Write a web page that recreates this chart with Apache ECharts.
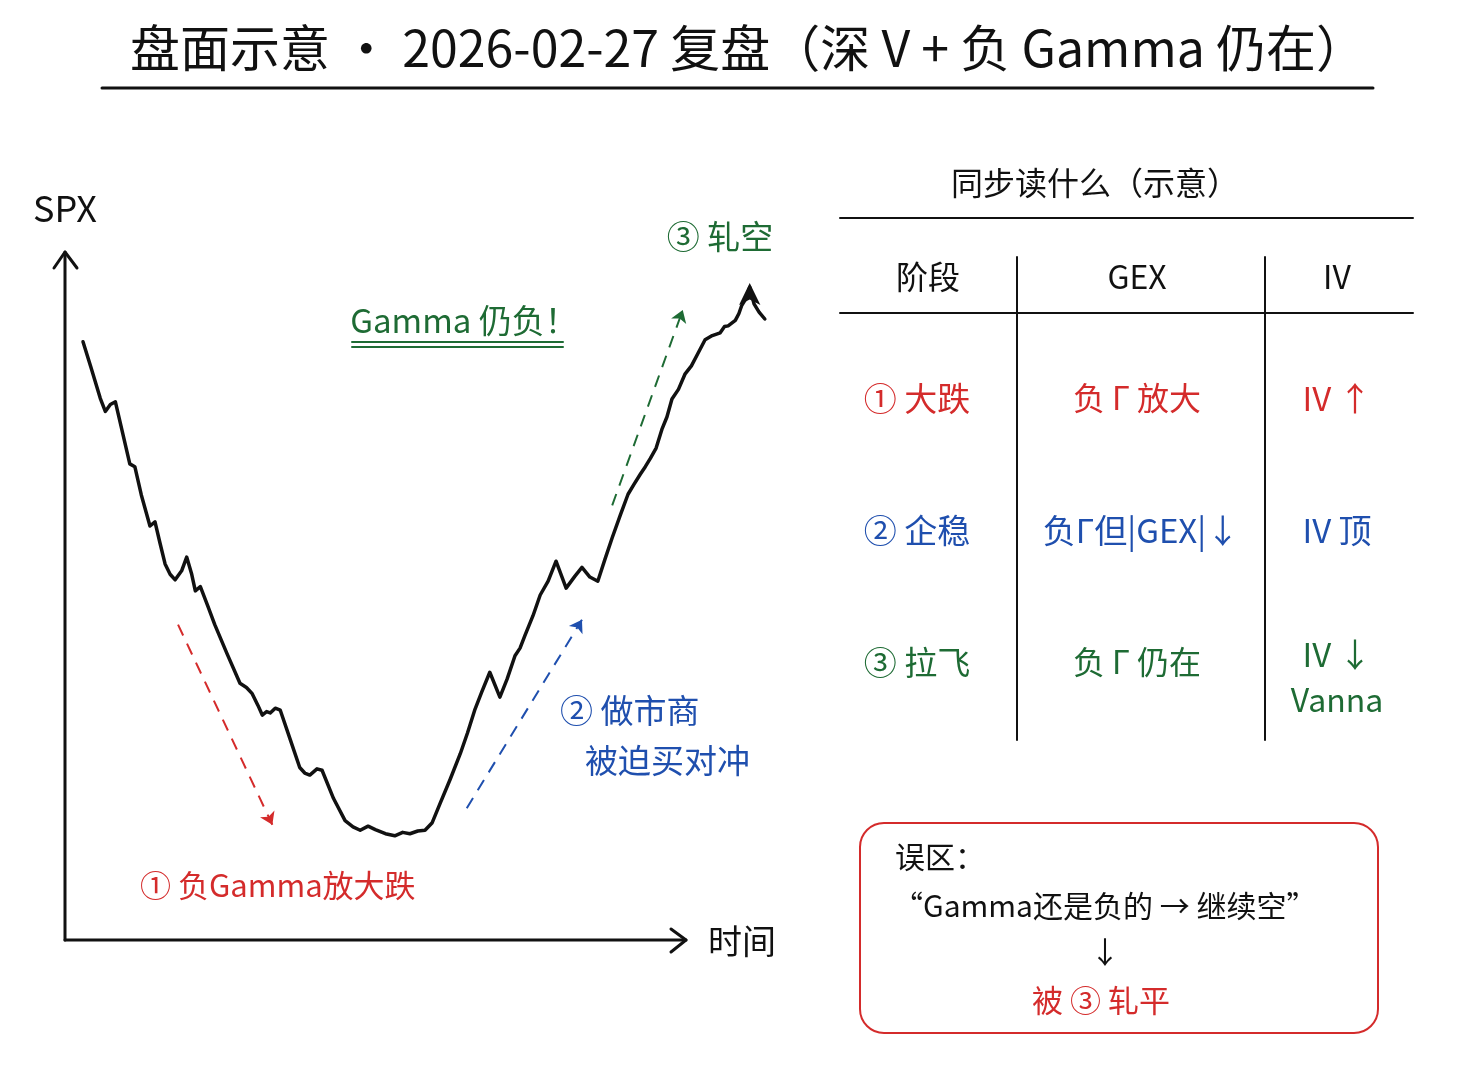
<!DOCTYPE html>
<html>
<head>
<meta charset="utf-8">
<script src="https://cdn.jsdelivr.net/npm/echarts@6/dist/echarts.min.js"></script>
<style>
html,body{margin:0;padding:0;background:#fff;}
#c{width:1467px;height:1072px;}
</style>
</head>
<body>
<div id="c"></div>
<script>
// ---- data (schematic) ----
var timeVals = [2.5, 3.6, 4.9, 5.6, 6.3, 7.0, 8.0, 9.0, 9.7, 10.6, 11.8, 12.5, 13.2, 13.9, 14.6, 15.3, 16.2, 16.9, 17.6, 18.1, 18.8, 19.8, 20.8, 22.5, 24.3, 25.2, 26.0, 26.8, 27.4, 28.0, 28.5, 29.2, 29.9, 31.3, 32.6, 33.3, 34.0, 35.0, 35.7, 37.3, 38.9, 40.0, 41.0, 42.1, 43.1, 44.5, 45.8, 46.9, 47.9, 49.0, 50.0, 51.0, 52.1, 53.5, 54.9, 55.9, 56.9, 57.9, 59.0, 60.4, 61.4, 62.5, 63.2, 63.9, 65.0, 66.0, 67.1, 68.2, 69.6, 70.8, 71.8, 72.9, 74.0, 75.0, 76.0, 77.1, 78.2, 79.0, 79.9, 80.6, 81.3, 82.1, 82.9, 83.6, 84.3, 85.2, 86.1, 87.0, 87.9, 88.9, 89.9, 91.0, 91.6, 92.1, 93.1, 93.6, 94.0, 94.6, 95.1, 95.7, 96.4, 97.2];
var spxVals  = [86.7, 83.0, 78.5, 76.6, 77.6, 78.0, 73.5, 69.0, 68.6, 64.5, 60.0, 60.6, 57.5, 54.5, 53.0, 52.2, 53.5, 55.5, 53.0, 50.6, 51.2, 48.5, 45.7, 41.5, 37.2, 36.6, 35.7, 34.0, 32.6, 33.1, 32.9, 33.6, 33.3, 29.0, 25.0, 24.2, 23.9, 24.8, 24.6, 20.5, 17.3, 16.4, 15.9, 16.5, 16.0, 15.4, 15.1, 15.6, 15.4, 15.8, 15.9, 17.0, 19.8, 23.3, 27.0, 30.0, 33.3, 36.0, 38.8, 35.2, 37.8, 41.2, 42.3, 44.2, 47.0, 50.0, 52.0, 54.9, 51.0, 52.7, 54.0, 52.6, 52.0, 55.2, 58.3, 61.5, 64.6, 66.0, 67.5, 68.6, 69.8, 71.3, 74.0, 75.8, 78.4, 79.8, 82.0, 83.2, 85.0, 87.0, 87.6, 88.0, 88.9, 89.0, 89.8, 90.8, 92.0, 93.0, 94.6, 92.2, 91.0, 90.0];
var peakPoint = [95.1, 95.2];
// dashed annotation arrows: [start, end] in (time, SPX)
var redArrow   = [[15.7, 45.7], [28.8, 16.7]];
var blueArrow  = [[55.8, 19.1], [71.8, 46.4]];
var greenArrow = [[76.0, 63.0], [85.8, 91.3]];

var title = '盘面示意 · 2026-02-27 复盘（深 V + 负 Gamma 仍在）';
var tableTitle = '同步读什么（示意）';
var tableHeader = ['阶段', 'GEX', 'IV'];
var rowStage = ['① 大跌', '② 企稳', '③ 拉飞'];
var rowGex = ['负 Γ 放大', '负Γ但|GEX|↓', '负 Γ 仍在'];
var rowIv = ['IV ↑', 'IV 顶', 'IV ↓'];
var rowIvNote = ['', '', 'Vanna'];

var RED = '#d42b2b', BLUE = '#1f4fae', GREEN = '#1e6b34', INK = '#111';
var rowColors = [RED, BLUE, GREEN];
var FONT = '"Noto Sans CJK SC", "Noto Sans", sans-serif';

var seriesData = timeVals.map(function (t, i) { return [t, spxVals[i]]; });

function txt(x, y, s, size, color, align) {
  return { type: 'text', x: x, y: y, silent: true, style: {
    text: s, fill: color || INK, font: size + 'px ' + FONT,
    align: align || 'center', verticalAlign: 'middle' } };
}
function ln(x1, y1, x2, y2, w, color) {
  return { type: 'line', silent: true, shape: { x1: x1, y1: y1, x2: x2, y2: y2 },
    style: { stroke: color || INK, lineWidth: w || 2, lineCap: 'round' } };
}
function poly(pts, w, color) {
  return { type: 'polyline', silent: true, shape: { points: pts },
    style: { stroke: color || INK, lineWidth: w || 2.5, fill: null, lineCap: 'round', lineJoin: 'round' } };
}

var graphics = [];
// title
graphics.push(txt(748, 48, title, 50, INK));
graphics.push(ln(102, 88, 1373, 88, 3));
// axes (hand drawn style)
graphics.push(ln(65, 940, 65, 252, 3));
graphics.push(poly([[54, 268], [65, 252], [77, 268]], 3));
graphics.push(ln(65, 940, 686, 940, 3));
graphics.push(poly([[671, 929], [686, 940], [671, 952]], 3));
graphics.push(txt(65, 208, 'SPX', 36, INK));
graphics.push(txt(742, 941, '时间', 34, INK));
// annotations
graphics.push(txt(464, 320, 'Gamma 仍负！', 33, GREEN));
graphics.push(ln(352, 342, 563, 342, 2, GREEN));
graphics.push(ln(352, 347, 563, 347, 2, GREEN));
graphics.push(txt(720, 236, '③ 轧空', 33, GREEN));
graphics.push(txt(560, 710, '② 做市商', 33, BLUE, 'left'));
graphics.push(txt(585, 760, '被迫买对冲', 33, BLUE, 'left'));
graphics.push(txt(140, 885, '① 负Gamma放大跌', 31, RED, 'left'));
// table
graphics.push(txt(1095, 183, tableTitle, 32, INK));
graphics.push(ln(840, 218, 1413, 218, 2));
graphics.push(ln(840, 313, 1413, 313, 2));
graphics.push(ln(1017, 257, 1017, 740, 2));
graphics.push(ln(1265, 257, 1265, 740, 2));
var colX = [928, 1137, 1337];
tableHeader.forEach(function (h, i) { graphics.push(txt(colX[i], 277, h, 32, INK)); });
var rowY = [398, 530, 662];
for (var r = 0; r < 3; r++) {
  graphics.push(txt(917, rowY[r], rowStage[r], 33, rowColors[r]));
  graphics.push(txt(colX[1] + (r === 1 ? 4 : 0), rowY[r], rowGex[r], r === 1 ? 33 : 32, rowColors[r]));
  if (rowIvNote[r]) {
    graphics.push(txt(colX[2], 654, rowIv[r], 33, rowColors[r]));
    graphics.push(txt(colX[2], 700, rowIvNote[r], 32, rowColors[r]));
  } else {
    graphics.push(txt(colX[2], rowY[r], rowIv[r], 33, rowColors[r]));
  }
}
// misconception box
graphics.push({ type: 'rect', silent: true, shape: { x: 860, y: 823, width: 518, height: 210, r: 24 },
  style: { stroke: RED, lineWidth: 2, fill: null } });
graphics.push(txt(895, 857, '误区：', 30, INK, 'left'));
graphics.push(txt(893, 906, '“Gamma还是负的 → 继续空”', 30, INK, 'left'));
graphics.push(txt(1105, 952, '↓', 30, INK));
graphics.push(txt(1101, 1000, '被 ③ 轧平', 31, RED));

var chart = echarts.init(document.getElementById('c'), null, { renderer: 'canvas' });
chart.setOption({
  backgroundColor: '#fff',
  animation: false,
  grid: { left: 65, top: 250, width: 720, height: 690 },
  xAxis: { type: 'value', min: 0, max: 100, show: false },
  yAxis: { type: 'value', min: 0, max: 100, show: false },
  series: [
    { type: 'line', data: seriesData, symbol: 'none', smooth: false,
      lineStyle: { color: INK, width: 3.5, join: 'round', cap: 'round' }, z: 5 },
    { type: 'scatter', data: [peakPoint], symbol: 'arrow', symbolSize: [16, 22],
      itemStyle: { color: INK, opacity: 1 }, z: 6 },
    { type: 'lines', coordinateSystem: 'cartesian2d', z: 4,
      symbol: ['none', 'arrow'], symbolSize: 12,
      data: [
        { coords: redArrow, lineStyle: { color: RED } },
        { coords: blueArrow, lineStyle: { color: BLUE } },
        { coords: greenArrow, lineStyle: { color: GREEN } }
      ],
      lineStyle: { width: 2, type: [12, 9], opacity: 1 } }
  ],
  graphic: graphics
});
</script>
</body>
</html>
